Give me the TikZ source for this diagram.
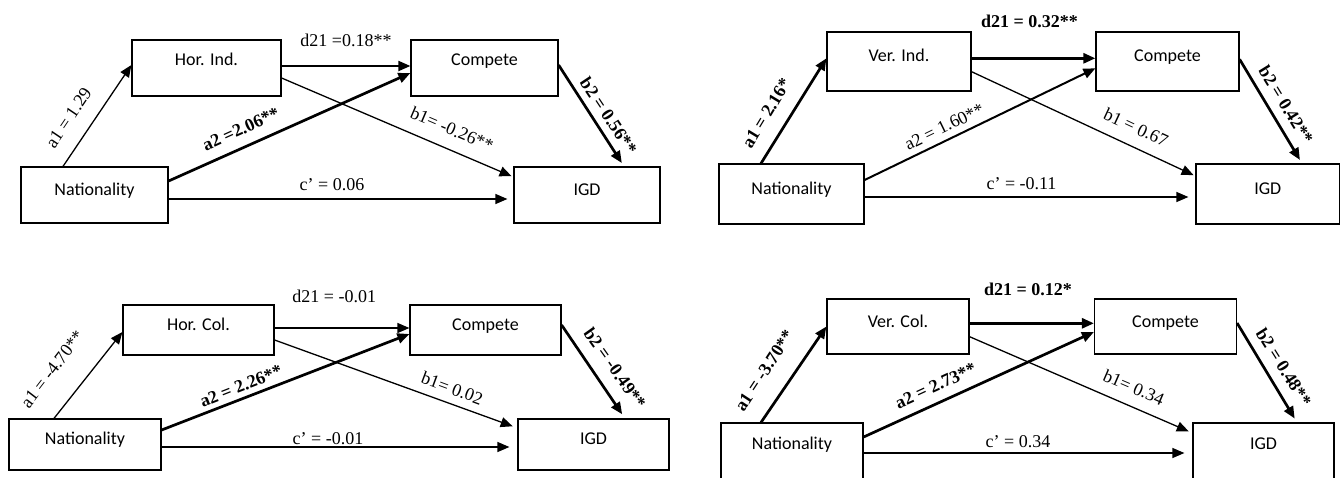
\documentclass[tikz,border=0pt]{standalone}
\usepackage{fontspec}
\setmainfont{Liberation Serif}
\newfontfamily\boxfont{Carlito}
\usetikzlibrary{arrows.meta}
\begin{document}
\begin{tikzpicture}[x=1pt,y=-1pt,
  bx/.style n args={3}{draw, line width=1.2pt, minimum width=#1, minimum height=#2,
    text height=12pt, text depth=#3, inner sep=0pt, font=\boxfont\fontsize{18}{20}\selectfont},
  lbl/.style={font=\fontsize{18}{20}\selectfont, inner sep=0pt},
  blbl/.style={font=\bfseries\fontsize{18}{20}\selectfont, inner sep=0pt},
  arr/.style={-{Triangle[length=12pt,width=10pt]}},
  aw1/.style={arr, line width=1.3pt},
  aw2/.style={arr, line width=2pt},
  aw3/.style={arr, line width=2.7pt}]
\useasboundingbox (0,0) rectangle (1341,477);
\clip (0,0) rectangle (1341,477);

% ---------- Panel 1 ----------
\node[bx={149pt}{56pt}{16.4pt}] (hi) at (206.5,68) {Hor. Ind.};
\node[bx={147pt}{56pt}{16.4pt}] (c1) at (484.5,68) {Compete};
\node[bx={147pt}{56pt}{11.4pt}] (n1) at (94.5,195) {Nationality};
\node[bx={146pt}{56pt}{11.4pt}] (i1) at (587,195) {IGD};
\draw[aw1] ([xshift=-31.5pt]n1.north) -- ([yshift=3pt]hi.west);
\draw[aw2] ([yshift=2pt]hi.east) -- ([yshift=2pt]c1.west);
\draw[aw1, shorten >=2pt] ([yshift=-10pt]hi.east) -- ([yshift=18pt]i1.west);
\draw[aw3] ([yshift=14pt]n1.east) -- ([yshift=-5pt]c1.west);
\draw[aw3, shorten >=4pt] ([yshift=3pt]c1.east) -- ([xshift=37pt]i1.north);
\draw[aw1, shorten >=6pt] ([yshift=-4pt]n1.east) -- ([yshift=-4pt]i1.west);
\node[lbl, rotate=56] (l1a1) at (68.6,117.7) {a1 = 1.29};
\node[blbl, rotate=24.4] (l1a2) at (241,129) {a2 =2.06**};
\node[lbl, rotate=-23.2] (l1b1) at (452,129) {b1= -0.26**};
\node[blbl, rotate=-56.4] (l1b2) at (608.6,116) {b2 = 0.56**};
\node[lbl] (l1c) at (332,185) {c’ = 0.06};
\node[lbl] (l1d) at (346,40) {d21 =0.18**};

% ---------- Panel 2 ----------
\node[bx={144pt}{59pt}{12.4pt}] (vi) at (899,61.5) {Ver. Ind.};
\node[bx={143pt}{59pt}{12.4pt}] (c2) at (1167.5,61.5) {Compete};
\node[bx={145pt}{60pt}{10.4pt}] (n2) at (791.5,194) {Nationality};
\node[bx={143.5pt}{60pt}{10.4pt}] (i2) at (1267.75,194) {IGD};
\draw[aw3] ([xshift=-30.5pt]n2.north) -- ([yshift=3.2pt]vi.west);
\draw[aw3] ([yshift=3.2pt]vi.east) -- ([yshift=3.2pt]c2.west);
\draw[aw1, shorten >=2pt] ([yshift=-10.2pt]vi.east) -- ([yshift=18pt]i2.west);
\draw[aw2] ([yshift=14pt]n2.east) -- ([yshift=-6.8pt]c2.west);
\draw[aw3, shorten >=4pt] ([yshift=2.2pt]c2.east) -- ([xshift=34.25pt]i2.north);
\draw[aw1, shorten >=7pt] ([yshift=-3pt]n2.east) -- ([yshift=-3pt]i2.west);
\node[blbl] (l2d) at (1029.6,21.7) {d21 = 0.32**};
\node[blbl, rotate=58.8] (l2a1) at (766.4,113.3) {a1 = 2.16*};
\node[lbl, rotate=26] (l2a2) at (944.3,126.7) {a2 = 1.60**};
\node[lbl, rotate=-25.1] (l2b1) at (1136,127.3) {b1 = 0.67};
\node[blbl, rotate=-58.4] (l2b2) at (1286,105) {b2 = 0.42**};
\node[lbl] (l2c) at (1021.5,183.3) {c’ = -0.11};

% ---------- Panel 3 ----------
\node[bx={151pt}{50pt}{10.4pt}] (hc) at (198.5,330) {Hor. Col.};
\node[bx={151pt}{50pt}{10.4pt}] (c3) at (485.5,330) {Compete};
\node[bx={152pt}{51pt}{11.4pt}] (n3) at (85,444.5) {Nationality};
\node[bx={151pt}{51pt}{11.4pt}] (i3) at (593.5,444.5) {IGD};
\draw[aw1] ([xshift=-31pt]n3.north) -- ([yshift=-2pt]hc.west);
\draw[aw1] ([yshift=2pt]hc.east) -- ([yshift=2pt]c3.west);
\draw[aw1, shorten >=5pt] ([yshift=-10pt]hc.east) -- ([yshift=16.5pt]i3.west);
\draw[aw3] ([yshift=14.5pt]n3.east) -- ([yshift=-4pt]c3.west);
\draw[aw3, shorten >=5pt] ([yshift=5pt]c3.east) -- ([xshift=31.5pt]i3.north);
\draw[aw1, shorten >=8pt] ([yshift=-2.5pt]n3.east) -- ([yshift=-2.5pt]i3.west);
\node[lbl] (l3d) at (334.3,296.7) {d21 = -0.01};
\node[lbl, rotate=52.5] (l3a1) at (52.3,369.3) {a1 = -4.70**};
\node[blbl, rotate=21.5] (l3a2) at (241,386) {a2 = 2.26**};
\node[lbl, rotate=-20.4] (l3b1) at (452.2,388.3) {b1= 0.02};
\node[blbl, rotate=-54.7] (l3b2) at (615,368.3) {b2 = -0.49**};
\node[lbl] (l3c) at (328,438.3) {c’ = -0.01};

% ---------- Panel 4 ----------
\node[bx={142pt}{55pt}{9.8pt}] (vc) at (898,326.5) {Ver. Col.};
\node[bx={142pt}{55pt}{9.8pt}] (c4) at (1165.5,326.5) {Compete};
\node[bx={142pt}{60pt}{18.4pt}] (n4) at (792,453) {Nationality};
\node[bx={141pt}{60pt}{18.4pt}] (i4) at (1263.5,453) {IGD};
\draw[aw3] ([xshift=-31pt]n4.north) -- (vc.west);
\draw[aw3] ([yshift=3.2pt]vc.east) -- ([yshift=3.2pt]c4.west);
\draw[aw1, shorten >=4pt] ([yshift=-10.2pt]vc.east) -- ([yshift=20pt]i4.west);
\draw[aw3] ([yshift=16pt]n4.east) -- ([yshift=-5.5pt]c4.west);
\draw[aw3, shorten >=4.5pt] ([yshift=3.5pt]c4.east) -- ([xshift=33.5pt]i4.north);
\draw[aw1, shorten >=8pt] (n4.east) -- (i4.west);
\node[blbl] (l4d) at (1028,289) {d21 = 0.12*};
\node[blbl, rotate=56.8] (l4a1) at (764.3,370.7) {a1 = -3.70**};
\node[blbl, rotate=24.7] (l4a2) at (935.7,385.7) {a2 = 2.73**};
\node[lbl, rotate=-23.4] (l4b1) at (1133.8,387.3) {b1= 0.34};
\node[blbl, rotate=-57.7] (l4b2) at (1283.8,367.3) {b2 = 0.48**};
\node[lbl] (l4c) at (1018,441.7) {c’ = 0.34};
\end{tikzpicture}
\end{document}
